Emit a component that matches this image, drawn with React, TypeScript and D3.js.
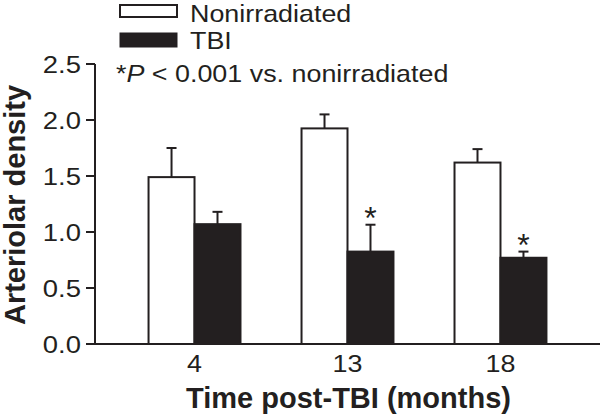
import React from "react";
import * as d3 from "d3";

const categories = ["4", "13", "18"];
const seriesNames = ["Nonirradiated", "TBI"];
const nonirradiatedMean = [1.49, 1.925, 1.62];
const nonirradiatedErr = [0.26, 0.125, 0.12];
const tbiMean = [1.07, 0.825, 0.77];
const tbiErr = [0.11, 0.24, 0.055];
const significant = [false, true, true];
const yTicks = [0, 0.5, 1.0, 1.5, 2.0, 2.5];

const W = 600;
const H = 416;
const FONT = "'Liberation Sans', Arial, Helvetica, sans-serif";
const SX = 1.12;

function Txt({ x, y, size, anchor = "start", bold = false, sx = SX, rotate = 0, children }: any) {
  return (
    <text
      transform={`translate(${x},${y}) rotate(${rotate}) scale(${sx},1)`}
      fontFamily={FONT}
      fontSize={size}
      fontWeight={bold ? "bold" : "normal"}
      textAnchor={anchor}
      fill="#231f20"
    >
      {children}
    </text>
  );
}

export default function App() {
  const axisX = 95;
  const y = d3.scaleLinear().domain([0, 2.5]).range([344, 64]);
  const x0 = d3
    .scaleBand<string>()
    .domain(categories)
    .range([axisX, W])
    .paddingInner(0.399)
    .paddingOuter(0.35);
  const x1 = d3.scaleBand<string>().domain(seriesNames).range([0, x0.bandwidth()]).padding(0);

  const rows = categories.map((c, i) => ({
    c,
    vals: [
      { s: seriesNames[0], m: nonirradiatedMean[i], e: nonirradiatedErr[i], fill: "#ffffff" },
      { s: seriesNames[1], m: tbiMean[i], e: tbiErr[i], fill: "#231f20" },
    ],
    sig: significant[i],
  }));

  const ink = "#231f20";
  const sw = 2;

  return (
    <svg width={W} height={H} style={{ position: "absolute", left: 0, top: 0, background: "#fff" }}>
      <rect x={0} y={0} width={W} height={H} fill="#fff" />
      {rows.map((r) => (
        <g key={r.c} transform={`translate(${x0(r.c)},0)`}>
          {r.vals.map((v) => {
            const bx = x1(v.s)!;
            const bw = x1.bandwidth();
            const cx = bx + bw / 2;
            return (
              <g key={v.s}>
                <line x1={cx} x2={cx} y1={y(v.m)} y2={y(v.m + v.e)} stroke={ink} strokeWidth={sw} />
                <line x1={cx - 5} x2={cx + 5} y1={y(v.m + v.e)} y2={y(v.m + v.e)} stroke={ink} strokeWidth={sw} />
                <rect x={bx} y={y(v.m)} width={bw} height={y(0) - y(v.m)} fill={v.fill} stroke={ink} strokeWidth={sw} />
              </g>
            );
          })}
          {r.sig && (
            <Txt x={x1(seriesNames[1])! + x1.bandwidth() / 2} y={y(r.vals[1].m + r.vals[1].e) + 4} size={32} anchor="middle" sx={1}>
              *
            </Txt>
          )}
        </g>
      ))}
      <line x1={axisX} x2={axisX} y1={y(2.5)} y2={y(0)} stroke={ink} strokeWidth={sw} />
      <line x1={axisX - 1} x2={W} y1={y(0)} y2={y(0)} stroke={ink} strokeWidth={sw} />
      {yTicks.map((t) => (
        <g key={t}>
          <line x1={axisX - 9} x2={axisX} y1={y(t)} y2={y(t)} stroke={ink} strokeWidth={sw} />
          <Txt x={81} y={y(t) + 9} size={24.5} anchor="end">
            {d3.format(".1f")(t)}
          </Txt>
        </g>
      ))}
      {categories.map((c) => (
        <Txt key={c} x={x0(c)! + x0.bandwidth() / 2} y={372} size={24} anchor="middle">
          {c}
        </Txt>
      ))}
      <Txt x={348.5} y={408} size={29} anchor="middle" bold sx={1}>
        Time post-TBI (months)
      </Txt>
      <Txt x={25} y={205} size={29} anchor="middle" bold sx={1} rotate={-90}>
        Arteriolar density
      </Txt>
      <rect x={120} y={5} width={57} height={12} fill="#fff" stroke={ink} strokeWidth={sw} />
      <rect x={120} y={33} width={57} height={14} fill={ink} stroke={ink} strokeWidth={1} />
      <Txt x={190} y={22} size={24}>
        {seriesNames[0]}
      </Txt>
      <Txt x={190} y={49} size={24}>
        {seriesNames[1]}
      </Txt>
      <Txt x={116} y={82} size={24}>
        *<tspan fontStyle="italic">P</tspan> {"< 0.001 vs. nonirradiated"}
      </Txt>
    </svg>
  );
}
